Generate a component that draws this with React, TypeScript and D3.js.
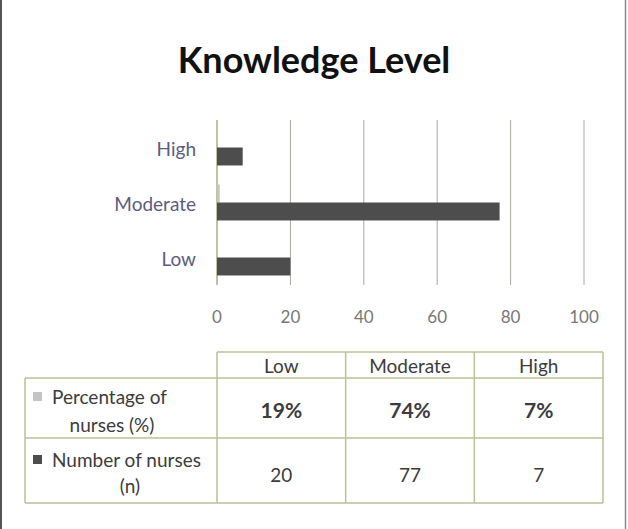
import React from "react";
import * as d3 from "d3";

// chart values
const chartCategories = ["High", "Moderate", "Low"];
const tableCategories = ["Low", "Moderate", "High"];
const percentValues = [19, 74, 7]; // Low, Moderate, High
const countValues = [20, 77, 7]; // Low, Moderate, High
const xTicks = [0, 20, 40, 60, 80, 100];
const seriesNames = ["Percentage of nurses (%)", "Number of nurses (n)"];

const W = 628;
const H = 529;
const font = "Lato, 'Open Sans', sans-serif";

export default function App() {
  const x = d3.scaleLinear().domain([0, 100]).range([217, 584]);
  const y = d3.scaleBand().domain(chartCategories).range([120, 285]);
  const ySub = d3
    .scaleBand()
    .domain(["pct", "num"])
    .range([0, y.bandwidth()])
    .paddingOuter(0.53);

  const col = d3.scaleBand().domain(tableCategories).range([217, 603]);
  const rowTop = [352, 378, 438, 503];

  const valueOf = (cat: string, arr: number[]) => arr[tableCategories.indexOf(cat)];

  const gridColor = "#a9a9a0";
  const tableColor = "#b9c29a";
  const textColor = "#3c3c3c";

  return (
    <svg width={W} height={H} style={{ position: "absolute", left: 0, top: 0, background: "#fff" }}>
      {/* picture frame */}
      <line x1={1} y1={0} x2={1} y2={H} stroke="#555" strokeWidth={2} />
      <line x1={625.5} y1={0} x2={625.5} y2={H} stroke="#8a8a8a" strokeWidth={1.5} />

      <text x={314} y={73} textAnchor="middle" fontFamily={font} fontWeight="bold" fontSize={36} fill="#111">
        Knowledge Level
      </text>

      {/* gridlines */}
      {xTicks.map((t) => (
        <line
          key={t}
          x1={x(t)}
          x2={x(t)}
          y1={120}
          y2={285}
          stroke={t === 0 ? "#a8ae8a" : gridColor}
          strokeWidth={t === 0 ? 1.5 : 1}
        />
      ))}

      {/* bars */}
      {chartCategories.map((c) => (
        <g key={c} transform={`translate(0,${y(c)})`}>
          <rect
            x={x(0)}
            y={ySub("pct")}
            width={x(valueOf(c, percentValues) / 100) - x(0)}
            height={ySub.bandwidth()}
            fill="#c4c4c4"
          />
          <rect
            x={x(0)}
            y={ySub("num")}
            width={x(valueOf(c, countValues)) - x(0)}
            height={ySub.bandwidth()}
            fill="#4d4d4d"
          />
          <text
            x={196}
            y={y.bandwidth() / 2 + 8}
            textAnchor="end"
            fontFamily={font}
            fontSize={19}
            fill="#5c5c80"
          >
            {c}
          </text>
        </g>
      ))}

      {/* x tick labels */}
      {xTicks.map((t) => (
        <text key={t} x={x(t)} y={323} textAnchor="middle" fontFamily={font} fontSize={17} fill="#777">
          {t}
        </text>
      ))}

      {/* data table */}
      <g fill="none" stroke={tableColor} strokeWidth={1.5}>
        <line x1={217} x2={603} y1={rowTop[0]} y2={rowTop[0]} />
        {rowTop.slice(1).map((r) => (
          <line key={r} x1={25} x2={603} y1={r} y2={r} />
        ))}
        <line x1={25} x2={25} y1={rowTop[1]} y2={rowTop[3]} />
        {tableCategories.map((c) => (
          <line key={c} x1={col(c)} x2={col(c)} y1={rowTop[0]} y2={rowTop[3]} />
        ))}
        <line x1={603} x2={603} y1={rowTop[0]} y2={rowTop[3]} />
      </g>

      {tableCategories.map((c) => {
        const cx = (col(c) as number) + col.bandwidth() / 2;
        return (
          <g key={c} fontFamily={font} textAnchor="middle" fill={textColor}>
            <text x={cx} y={373} fontSize={19}>{c}</text>
            <text x={cx} y={418} fontSize={21} fontWeight="bold">{valueOf(c, percentValues)}%</text>
            <text x={cx} y={482} fontSize={19}>{valueOf(c, countValues)}</text>
          </g>
        );
      })}

      {/* legend keys in the table */}
      <g fontFamily={font} fontSize={19} fill={textColor}>
        <rect x={33} y={392} width={9} height={9} fill="#c4c4c4" />
        <text x={52} y={404}>Percentage of</text>
        <text x={112} y={432} textAnchor="middle">nurses (%)</text>
        <rect x={33} y={455} width={9} height={9} fill="#4d4d4d" />
        <text x={52} y={467}>Number of nurses</text>
        <text x={130} y={493} textAnchor="middle">(n)</text>
      </g>
      <title>{seriesNames.join(", ")}</title>
    </svg>
  );
}
